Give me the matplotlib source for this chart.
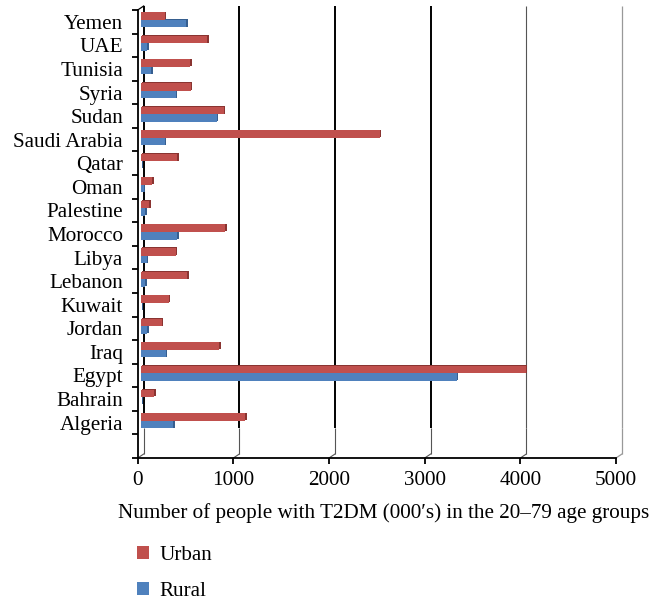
import matplotlib
matplotlib.use("Agg")
import matplotlib.pyplot as plt
import matplotlib.transforms as mtransforms
import matplotlib.patheffects as pe
from matplotlib.patches import Patch
import numpy as np

# Countries listed bottom to top
countries = ["Algeria", "Bahrain", "Egypt", "Iraq", "Jordan", "Kuwait", "Lebanon",
             "Libya", "Morocco", "Palestine", "Oman", "Qatar", "Saudi Arabia",
             "Sudan", "Syria", "Tunisia", "UAE", "Yemen"]
urban = [1094, 143, 4023, 822, 219, 293, 484, 366, 885, 87, 118, 383, 2497,
         867, 522, 519, 697, 251]
rural = [342, 5, 3305, 264, 70, 5, 49, 63, 383, 49, 34, 5, 251,
         797, 366, 112, 70, 477]
x_ticks = [0, 1000, 2000, 3000, 4000, 5000]
x_label = "Number of people with T2DM (000\u2032s) in the 20\u201379 age groups"

RED, RED_DARK = "#C0504D", "#8A3431"
BLUE, BLUE_DARK = "#4F81BD", "#365E8F"

plt.rcParams["font.family"] = ["Liberation Serif", "DejaVu Serif"]
plt.rcParams["font.size"] = 15.2

fig = plt.figure(figsize=(6.62, 6.0), dpi=100)
ax = fig.add_axes([137.7 / 662, 1 - 458 / 600, (616 - 137.7) / 662, (458 - 10) / 600])

ax.set_xlim(0, 5000)
ax.set_ylim(-0.5, len(countries) + 0.5)

px = 1 / 100.0
back = mtransforms.ScaledTranslation(6 * px, 4 * px, fig.dpi_scale_trans)
mid = mtransforms.ScaledTranslation(3 * px, 2 * px, fig.dpi_scale_trans)

y = np.arange(1, len(countries) + 1)
h = 0.32

def side(dark):
    return [pe.SimplePatchShadow(offset=(1.1, 0.4), shadow_rgbFace=dark, alpha=1.0),
            pe.Normal()]

blue_bars = ax.barh(y - h / 2, rural, height=h, color=BLUE, zorder=3,
                    transform=ax.transData + mid)
red_bars = ax.barh(y + h / 2, urban, height=h, color=RED, zorder=4,
                   transform=ax.transData + mid)
for b in blue_bars:
    b.set_path_effects(side(BLUE_DARK))
for b in red_bars:
    b.set_path_effects(side(RED_DARK))

# Back-wall gridlines with the 3D floor/ceiling joins
y0, y1 = -0.5, len(countries) + 0.5
split = 0.6
inv = ax.transData.inverted()

def shifted(xv, yv, dx=6, dy=4):
    p = ax.transData.transform((xv, yv))
    return inv.transform((p[0] + dx, p[1] + dy))

for xv in x_ticks:
    if xv <= 3000:
        upper_c, upper_w = "black", 1.4
        lower_c, lower_w = "#555555", 0.8
    elif xv == 4000:
        upper_c, upper_w = "#555555", 0.8
        lower_c, lower_w = "#555555", 0.8
    else:
        upper_c, upper_w = "#999999", 0.9
        lower_c, lower_w = "#999999", 0.9
    ax.plot([xv, xv], [split, y1], color=upper_c, lw=upper_w,
            transform=ax.transData + back, clip_on=False, zorder=1,
            solid_capstyle="butt")
    ax.plot([xv, xv], [y0, split], color=lower_c, lw=lower_w,
            transform=ax.transData + back, clip_on=False, zorder=1,
            solid_capstyle="butt")
    sx, sy = shifted(xv, y0)
    ax.plot([xv, sx], [y0, sy], color=lower_c, lw=lower_w, clip_on=False, zorder=1)
    if xv == 0:
        tx, ty = shifted(xv, y1)
        ax.plot([xv, tx], [y1, ty], color="black", lw=0.9, clip_on=False, zorder=1)

# Axes styling
for s in ("top", "right"):
    ax.spines[s].set_visible(False)
for s in ("left", "bottom"):
    ax.spines[s].set_linewidth(1.3)
    ax.spines[s].set_color("black")

ax.set_yticks(y)
ax.set_yticklabels(countries)
ax.tick_params(axis="y", which="major", length=0, pad=10.5)
ax.set_yticks(np.arange(y0, y1 + 0.01, 1.0), minor=True)
ax.tick_params(axis="y", which="minor", length=4, width=1.3, direction="out")

ax.set_xticks(x_ticks)
ax.set_xticklabels([str(v) for v in x_ticks])
ax.tick_params(axis="x", length=4, width=1.3, direction="out", pad=5.5)
ax.set_xlabel(x_label, labelpad=9)
ax.xaxis.label.set_x(0.515)

handles = [Patch(facecolor=RED, label="Urban"), Patch(facecolor=BLUE, label="Rural")]
fig.legend(handles=handles, loc="upper left",
           bbox_to_anchor=(137 / 662, 1 - 546 / 600), frameon=False,
           handlelength=0.55, handleheight=0.55, handletextpad=0.5,
           labelspacing=0.8, borderpad=0, borderaxespad=0)

fig.savefig("out.png", dpi=100, facecolor="white")
